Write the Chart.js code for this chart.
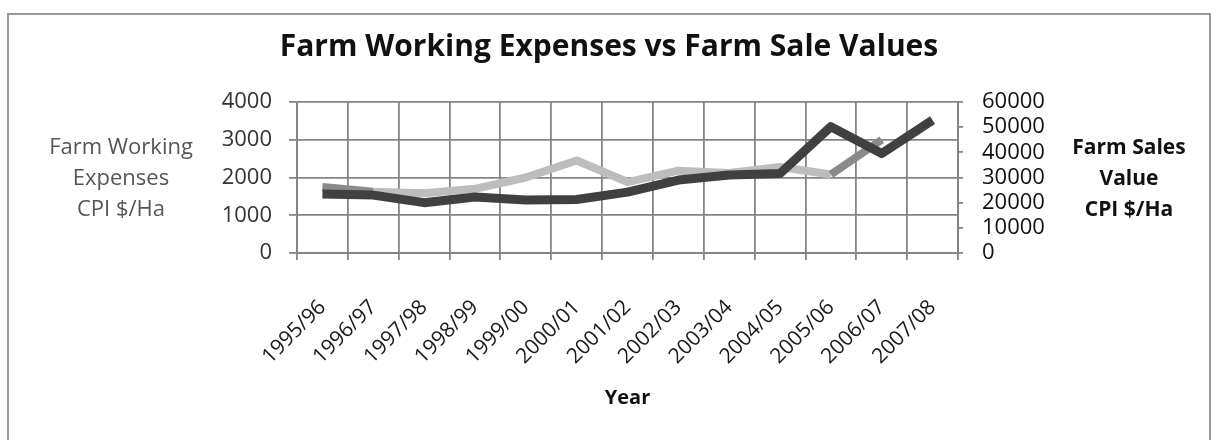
<!DOCTYPE html>
<html>
<head>
<meta charset="utf-8">
<title>Farm Working Expenses vs Farm Sale Values</title>
<script src="https://cdn.jsdelivr.net/npm/chart.js@4.4.1/dist/chart.umd.min.js"></script>
<style>
  html, body { margin: 0; padding: 0; background: #fff; }
  #wrap { width: 1218px; height: 440px; position: relative; }
</style>
</head>
<body>
<div id="wrap"><canvas id="farmChart"></canvas></div>
<script>
// financial years on the category axis
const years = ['1995/96','1996/97','1997/98','1998/99','1999/00','2000/01','2001/02',
               '2002/03','2003/04','2004/05','2005/06','2006/07','2007/08'];
// farm working expenses, CPI $/Ha (left axis)
const workingExpenses = [1750, 1620, 1580, 1700, 2000, 2450, 1880, 2180, 2120, 2280, 2080, 3000, null];
// farm sales value, CPI $/Ha (right axis)
const salesValue = [23400, 23000, 20000, 22250, 21050, 21250, 24200, 29000, 31000, 31600, 50200, 39500, 52800];
// tick values for the two value axes
const expenseTicks = [0, 1000, 2000, 3000, 4000];
const salesTicks = [0, 10000, 20000, 30000, 40000, 50000, 60000];

const leftTitle = ['Farm Working', 'Expenses', 'CPI $/Ha'];
const rightTitle = ['Farm Sales', 'Value', 'CPI $/Ha'];

const FONT = "'Open Sans', 'DejaVu Sans', sans-serif";
const GRID = '#858585';
// segments of the expenses line that show in the darker grey
const darkSegments = [0, 10];

// frame round the chart plus the horizontal axis captions either side
const sideTitles = {
  id: 'sideTitles',
  beforeDraw(chart) {
    const ctx = chart.ctx;
    ctx.save();
    ctx.strokeStyle = '#9a9a9a';
    ctx.lineWidth = 2;
    ctx.strokeRect(8, 14, 1202, 440);
    ctx.restore();
  },
  afterDraw(chart) {
    const ctx = chart.ctx;
    ctx.save();
    ctx.textAlign = 'center';
    ctx.textBaseline = 'middle';
    ctx.font = '22px ' + FONT;
    ctx.fillStyle = '#555';
    leftTitle.forEach((t, i) => ctx.fillText(t, 121, 148 + i * 31));
    ctx.font = 'bold 21px ' + FONT;
    ctx.fillStyle = '#111';
    rightTitle.forEach((t, i) => ctx.fillText(t, 1129, 148 + i * 31));
    ctx.restore();
  }
};

function fixedTicks(values) {
  return scale => { scale.ticks = values.map(v => ({ value: v })); };
}
const plain = v => String(v);

new Chart(document.getElementById('farmChart'), {
  type: 'line',
  data: {
    labels: years,
    datasets: [
      {
        label: 'Farm Sales Value CPI $/Ha',
        data: salesValue,
        yAxisID: 'y1',
        borderColor: '#404040',
        borderWidth: 9,
        borderJoinStyle: 'round',
        borderCapStyle: 'butt',
        pointRadius: 0,
        tension: 0,
        order: 0
      },
      {
        label: 'Farm Working Expenses CPI $/Ha',
        data: workingExpenses,
        yAxisID: 'y',
        borderColor: '#bdbdbd',
        borderWidth: 8,
        borderJoinStyle: 'round',
        borderCapStyle: 'butt',
        pointRadius: 0,
        tension: 0,
        order: 1,
        segment: {
          borderColor: c => darkSegments.includes(c.p0DataIndex) ? '#8a8a8a' : undefined
        }
      }
    ]
  },
  options: {
    responsive: true,
    maintainAspectRatio: false,
    animation: false,
    layout: { padding: { top: 14, bottom: 18, left: 0, right: 0 } },
    plugins: {
      legend: { display: false },
      tooltip: { enabled: false },
      title: {
        display: true,
        text: 'Farm Working Expenses vs Farm Sale Values',
        color: '#111',
        font: { family: FONT, size: 30, weight: 'bold' },
        padding: { top: 15, bottom: 37 }
      }
    },
    scales: {
      x: {
        offset: true,
        grid: { offset: true, color: GRID, lineWidth: 1.8, tickLength: 7 },
        border: { color: GRID, width: 2 },
        ticks: {
          autoSkip: false, minRotation: 45, maxRotation: 45,
          color: '#1a1a1a', padding: 35,
          font: { family: FONT, size: 21 }
        },
        title: {
          display: true, text: 'Year', color: '#111',
          font: { family: FONT, size: 20, weight: 'bold' },
          padding: { top: 4, bottom: 12 }
        },
        afterFit(scale) { scale.height = 169; }
      },
      y: {
        position: 'left',
        min: 0, max: 4000,
        afterBuildTicks: fixedTicks(expenseTicks),
        grid: { color: GRID, lineWidth: 1.8, tickLength: 8 },
        border: { color: GRID, width: 2 },
        ticks: { color: '#333', padding: 17, autoSkip: false, callback: plain, font: { family: FONT, size: 22 } },
        afterFit(scale) { scale.width = 297; }
      },
      y1: {
        position: 'right',
        min: 0, max: 60000,
        afterBuildTicks: fixedTicks(salesTicks),
        grid: { drawOnChartArea: false, color: GRID, lineWidth: 1.8, tickLength: 5 },
        border: { color: GRID, width: 2 },
        ticks: { color: '#111', padding: 19, autoSkip: false, callback: plain, font: { family: FONT, size: 22 } },
        afterFit(scale) { scale.width = 260; }
      }
    }
  },
  plugins: [sideTitles]
});
</script>
</body>
</html>
